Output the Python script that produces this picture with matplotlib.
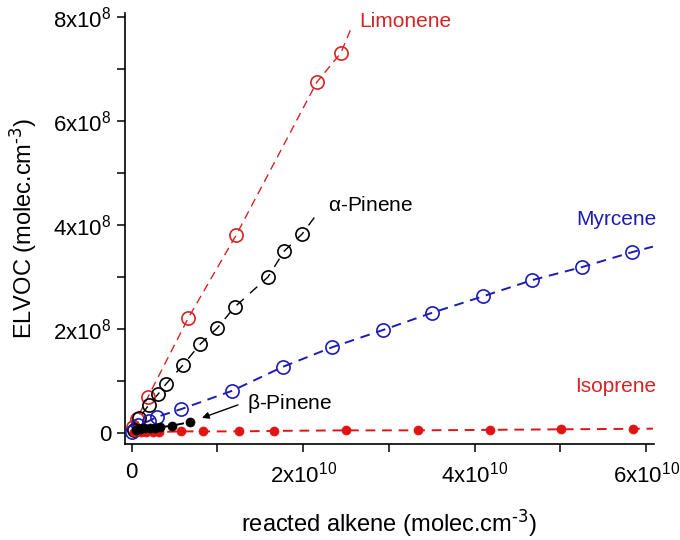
import numpy as np
import matplotlib
matplotlib.use("Agg")
import matplotlib.pyplot as plt

plt.rcParams['font.family'] = ['Liberation Sans', 'DejaVu Sans']
plt.rcParams['mathtext.default'] = 'regular'

XS = 1e10
YS = 1e8

# ---- data (x in 1e10 molec/cm3, y in 1e8 molec/cm3) ----
limonene_x = [0.02, 0.06, 0.19, 0.66, 1.22, 2.16, 2.44]
limonene_y = [0.12, 0.27, 0.69, 2.21, 3.81, 6.75, 7.31]
limonene_end = 2.55

apinene_x = [0.03, 0.09, 0.20, 0.31, 0.40, 0.60, 0.80, 1.00, 1.20, 1.59, 1.78, 1.99]
apinene_y = [0.05, 0.29, 0.54, 0.75, 0.94, 1.31, 1.71, 2.02, 2.42, 3.00, 3.50, 3.83]
apinene_end = 2.18

myrcene_x = [0.01, 0.08, 0.20, 0.30, 0.58, 1.17, 1.76, 2.34, 2.93, 3.50, 4.10, 4.67, 5.25, 5.84]
myrcene_y = [0.02, 0.15, 0.23, 0.31, 0.46, 0.81, 1.27, 1.65, 1.98, 2.31, 2.63, 2.94, 3.19, 3.48]
myrcene_end = 6.08

isoprene_x = [0.03, 0.11, 0.17, 0.25, 0.32, 0.58, 0.83, 1.25, 1.66, 2.50, 3.34, 4.18, 5.01, 5.85]
isoprene_y = [0.02, 0.02, 0.02, 0.02, 0.02, 0.03, 0.03, 0.03, 0.04, 0.05, 0.05, 0.06, 0.07, 0.08]
isoprene_end = 6.08

bpinene_x = [0.05, 0.10, 0.15, 0.21, 0.27, 0.33, 0.47, 0.68]
bpinene_y = [0.06, 0.08, 0.09, 0.09, 0.10, 0.11, 0.14, 0.21]

x_ticks = [0, 1, 2, 3, 4, 5, 6]
x_ticklabels = ['0', '', r'2x10$^{10}$', '', r'4x10$^{10}$', '', r'6x10$^{10}$']
y_ticks = [0, 1, 2, 3, 4, 5, 6, 7, 8]
y_ticklabels = ['0', '', r'2x10$^{8}$', '', r'4x10$^{8}$', '', r'6x10$^{8}$', '', r'8x10$^{8}$']

RED = '#d42424'
RED2 = '#e01414'
BLUE = '#1c1cb4'
BLACK = '#000000'

fig = plt.figure(figsize=(6.8, 5.4), dpi=100)
ax = fig.add_axes([0.184, 0.178, 0.778, 0.798])


def line_with_ext(x, y, xend, nfit=3):
    x = np.asarray(x, float)
    y = np.asarray(y, float)
    p = np.polyfit(x[-nfit:], y[-nfit:], 1)
    lx = np.append(x, xend)
    ly = np.append(y, np.polyval(p, xend))
    return lx, ly


# dashed lines
lx, ly = line_with_ext(limonene_x, limonene_y, limonene_end)
ax.plot(lx * XS, ly * YS, color=RED, lw=1.0, dashes=(6, 4), zorder=2)
lx, ly = line_with_ext(apinene_x, apinene_y, apinene_end)
ax.plot(lx * XS, ly * YS, color=BLACK, lw=1.0, dashes=(7, 6), zorder=2)
lx, ly = line_with_ext(myrcene_x, myrcene_y, myrcene_end)
ax.plot(lx * XS, ly * YS, color=BLUE, lw=1.4, dashes=(5, 3.5), zorder=2)
lx, ly = line_with_ext(isoprene_x, isoprene_y, isoprene_end)
ax.plot(lx * XS, ly * YS, color=RED2, lw=1.4, dashes=(5, 3.5), zorder=2)
ax.plot(np.array(bpinene_x) * XS, np.array(bpinene_y) * YS, color=BLACK, lw=1.4,
        dashes=(4, 3), zorder=2)

# markers
ms_open = 9.5
ax.plot(np.array(limonene_x) * XS, np.array(limonene_y) * YS, 'o', ms=ms_open,
        mfc='none', mec=RED, mew=1.2, zorder=3)
ax.plot(np.array(apinene_x) * XS, np.array(apinene_y) * YS, 'o', ms=ms_open,
        mfc='none', mec=BLACK, mew=1.2, zorder=3)
ax.plot(np.array(myrcene_x) * XS, np.array(myrcene_y) * YS, 'o', ms=ms_open,
        mfc='none', mec=BLUE, mew=1.2, zorder=3)
ax.plot(np.array(isoprene_x) * XS, np.array(isoprene_y) * YS, 'o', ms=6.5,
        mfc=RED2, mec=RED2, mew=0.5, zorder=4)
ax.plot(np.array(bpinene_x) * XS, np.array(bpinene_y) * YS, 'o', ms=6.5,
        mfc=BLACK, mec=BLACK, mew=0.5, zorder=5)

# labels
fs_lab = 15
ax.text(2.66 * XS, 7.92 * YS, 'Limonene', color=RED, fontsize=fs_lab, va='center', ha='left')
ax.text(2.29 * XS, 4.38 * YS, r'$\alpha$-Pinene', color=BLACK, fontsize=fs_lab,
        va='center', ha='left')
ax.text(5.18 * XS, 4.10 * YS, 'Myrcene', color=BLUE, fontsize=fs_lab, va='center', ha='left')
ax.text(5.17 * XS, 0.885 * YS, 'Isoprene', color=RED, fontsize=fs_lab, va='center', ha='left')
ax.text(1.35 * XS, 0.56 * YS, r'$\beta$-Pinene', color=BLACK, fontsize=fs_lab,
        va='center', ha='left')
ax.annotate('', xy=(0.82 * XS, 0.29 * YS), xytext=(1.24 * XS, 0.54 * YS),
            arrowprops=dict(arrowstyle='-|>', color=BLACK, lw=1.0,
                            mutation_scale=10, shrinkA=0, shrinkB=0))

ax.set_xlim(-0.076 * XS, 6.094 * XS)
ax.set_ylim(-0.21 * YS, 8.08 * YS)
ax.set_xticks(np.array(x_ticks) * XS)
ax.set_xticklabels(x_ticklabels)
ax.set_yticks(np.array(y_ticks) * YS)
ax.set_yticklabels(y_ticklabels)

for s in ['top', 'right']:
    ax.spines[s].set_visible(False)
for s in ['left', 'bottom']:
    ax.spines[s].set_linewidth(1.2)
ax.tick_params(axis='both', direction='out', length=6, width=1.1, labelsize=16)
ax.tick_params(axis='x', pad=7)
ax.tick_params(axis='y', pad=4)

ax.set_xlabel(r'reacted alkene (molec.cm$^{\text{-3}}$)', fontsize=17, labelpad=14)
ax.set_ylabel(r'ELVOC (molec.cm$^{\text{-3}}$)', fontsize=17, labelpad=10)

fig.savefig('out.png', dpi=100)
